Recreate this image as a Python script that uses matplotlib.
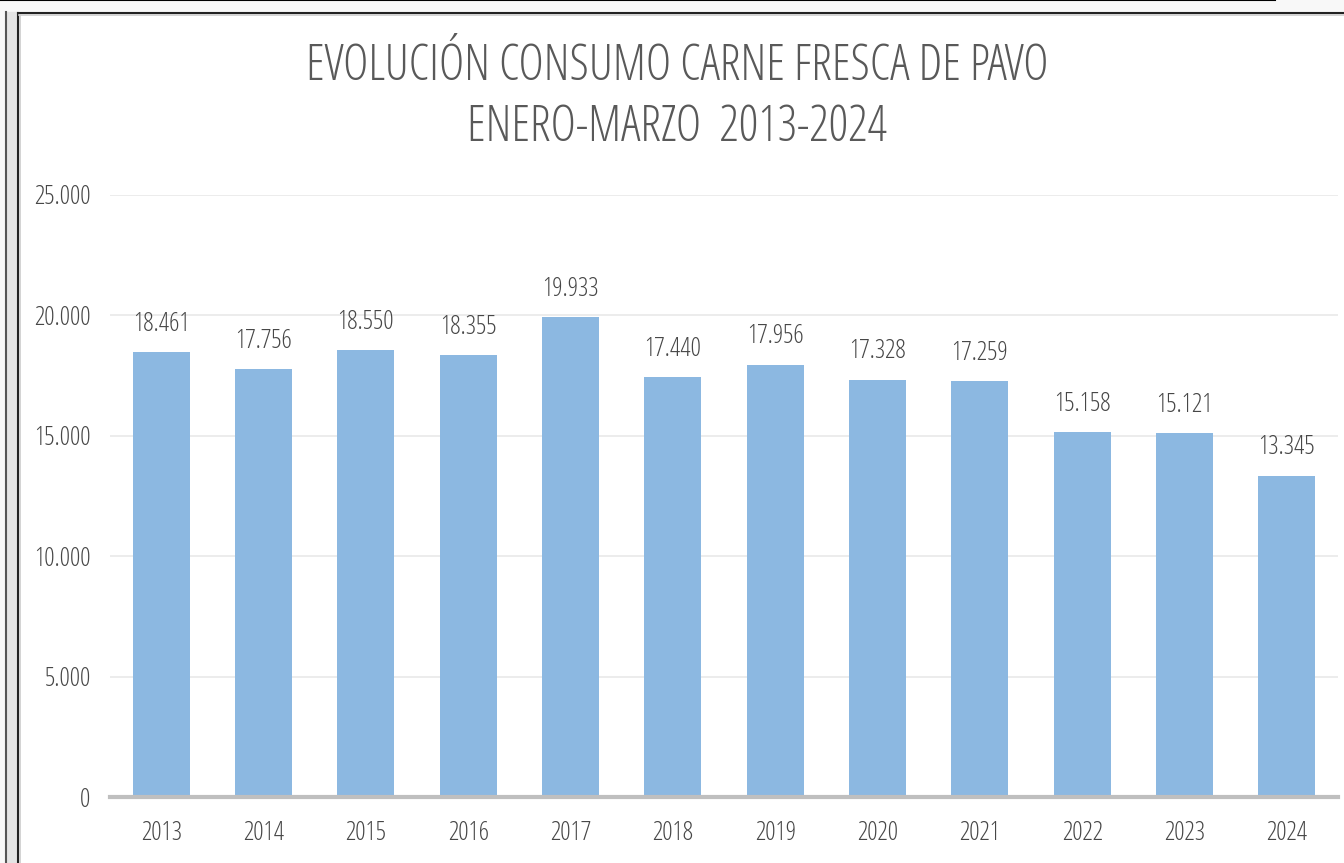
import matplotlib
matplotlib.use("Agg")
import matplotlib.pyplot as plt
from matplotlib.lines import Line2D
from matplotlib.patches import Rectangle

years = ["2013", "2014", "2015", "2016", "2017", "2018", "2019", "2020", "2021", "2022", "2023", "2024"]
values = [18461, 17756, 18550, 18355, 19933, 17440, 17956, 17328, 17259, 15158, 15121, 13345]
value_labels = ["18.461", "17.756", "18.550", "18.355", "19.933", "17.440", "17.956", "17.328", "17.259", "15.158", "15.121", "13.345"]
yticks = [0, 5000, 10000, 15000, 20000, 25000]
ytick_labels = ["0", "5.000", "10.000", "15.000", "20.000", "25.000"]
title_lines = ["EVOLUCIÓN CONSUMO CARNE FRESCA DE PAVO", "ENERO-MARZO  2013-2024"]

plt.rcParams["font.family"] = ["Open Sans", "DejaVu Sans"]
plt.rcParams["font.weight"] = 300
plt.rcParams["font.stretch"] = "condensed"
TXT = "#595959"
LBL = "#474747"
BAR = "#8cb8e1"

fig = plt.figure(figsize=(13.44, 8.63), dpi=100)
W, H = 1344, 863

def fx(x):
    return x / W

def fy(y):
    return 1 - y / H

# screenshot frame decorations
fig.patches.append(Rectangle((0, fy(12)), 1, 12 / H, transform=fig.transFigure, color="#f8f8f8", zorder=-5))
fig.patches.append(Rectangle((0, 0), fx(17), 1, transform=fig.transFigure, color="#f8f8f8", zorder=-5))
fig.patches.append(Rectangle((fx(7), 0), fx(10), fy(12), transform=fig.transFigure, color="#e4e4e4", zorder=-5))
fig.lines.append(Line2D([0, fx(1275)], [fy(0.5), fy(0.5)], transform=fig.transFigure, color="#000000", lw=1.5))
fig.lines.append(Line2D([fx(6), fx(6)], [0, fy(12)], transform=fig.transFigure, color="#555555", lw=1.5))
fig.lines.append(Line2D([fx(18), fx(18)], [0, fy(13)], transform=fig.transFigure, color="#222222", lw=1.5))
fig.lines.append(Line2D([fx(18), 1], [fy(13), fy(13)], transform=fig.transFigure, color="#222222", lw=1.5))
fig.lines.append(Line2D([fx(19), 1], [fy(15), fy(15)], transform=fig.transFigure, color="#cccccc", lw=1.2))
fig.lines.append(Line2D([fx(20), fx(20)], [0, fy(15)], transform=fig.transFigure, color="#cccccc", lw=1.2))

ax = fig.add_axes([fx(110), fy(797), fx(1338) - fx(110), (797 - 195) / H])
x = list(range(len(years)))
bars = ax.bar(x, values, width=0.56, color=BAR, zorder=2)
ax.set_xlim(-0.5, len(years) - 0.5)
ax.set_ylim(0, 25000)
ax.set_yticks(yticks)
ax.set_yticklabels(ytick_labels)
ax.set_xticks(x)
ax.set_xticklabels(years)
ax.tick_params(axis="both", length=0, labelsize=18.5, colors=LBL)
ax.tick_params(axis="y", pad=14)
ax.tick_params(axis="x", pad=17)
for s in ["top", "right", "left"]:
    ax.spines[s].set_visible(False)
ax.spines["bottom"].set_color("#bfbfbf")
ax.spines["bottom"].set_linewidth(3)
ax.spines["bottom"].set_zorder(3)
ax.grid(axis="y", color="#e9e9e9", lw=1.2, zorder=0)
ax.set_axisbelow(True)

for xi, v, lab in zip(x, values, value_labels):
    ax.annotate(lab, (xi, v), xytext=(0, 11), textcoords="offset points",
                ha="center", va="bottom", fontsize=18.5, color=LBL)

fig.text(fx(677), fy(67), title_lines[0], ha="center", va="center", fontsize=35, color=TXT)
fig.text(fx(677), fy(128), title_lines[1], ha="center", va="center", fontsize=35, color=TXT)

fig.savefig("out.png", dpi=100)
